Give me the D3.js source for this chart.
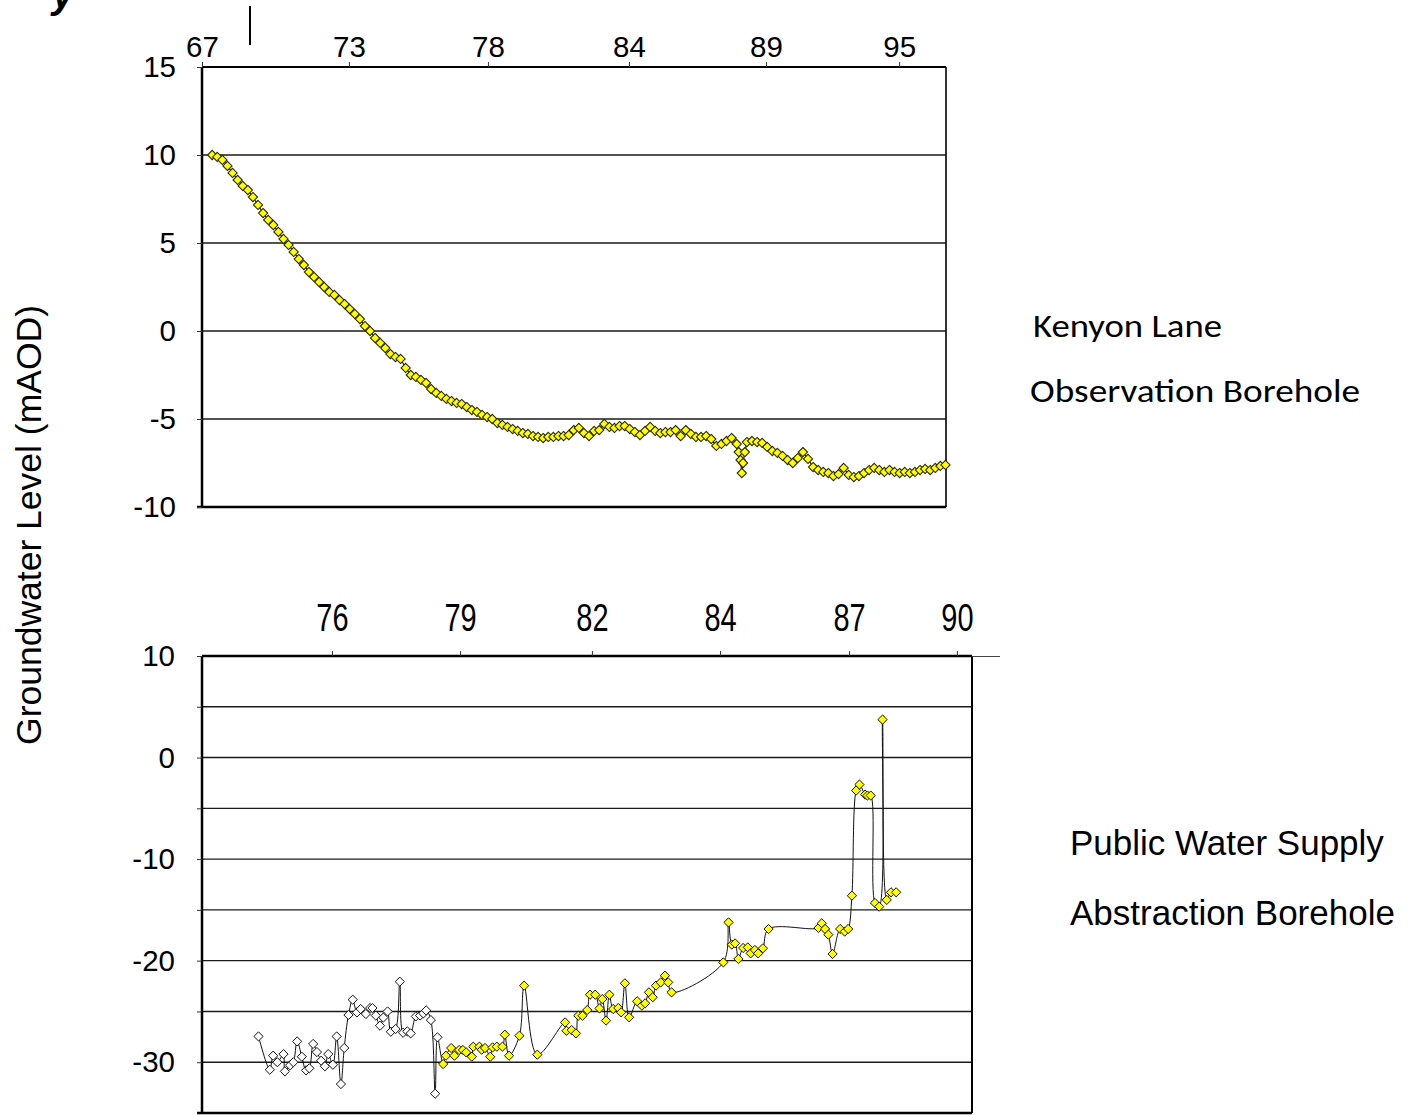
<!DOCTYPE html>
<html><head><meta charset="utf-8">
<script src="https://cdn.jsdelivr.net/npm/d3@7"></script>
<style>body{margin:0;background:#fff}svg{display:block}</style>
</head><body>
<svg id="c" width="1420" height="1115"></svg>
<script>
// ---------- DATA ----------
// Kenyon Lane observation borehole (decimal year, level mAOD)
const kenyonYears = [
1968.3,1968.5,1968.7,1968.9,1969.1,1969.3,1969.5,1969.7,1969.9,1970.1,
1970.3,1970.5,1970.7,1970.9,1971.1,1971.3,1971.5,1971.7,1971.9,1972.1,
1972.3,1972.5,1972.7,1972.9,1973.1,1973.3,1973.5,1973.7,1973.9,1974.1,
1974.3,1974.5,1974.7,1974.9,1975.1,1975.3,1975.5,1975.7,1975.9,1976.1,
1976.3,1976.5,1976.7,1976.9,1977.1,1977.3,1977.5,1977.7,1977.9,1978.1,
1978.3,1978.5,1978.7,1978.9,1979.1,1979.3,1979.5,1979.7,1979.9,1980.1,
1980.3,1980.5,1980.7,1980.9,1981.1,1981.3,1981.5,1981.7,1981.9,1982.1,
1982.3,1982.5,1982.7,1982.9,1983.1,1983.3,1983.5,1983.7,1983.9,1984.1,
1984.3,1984.5,1984.7,1984.9,1985.1,1985.3,1985.5,1985.7,1985.9,1986.1,
1986.3,1986.5,1986.7,1986.9,1987.1,1987.3,1987.5,1987.7,1987.9,1988.1,
1988.3,1988.5,1988.7,1988.9,1988.98,1989.05,1989.1,1989.15,1989.22,1989.3,
1989.5,1989.7,1989.9,1990.1,1990.3,1990.5,1990.7,1990.9,1991.1,1991.3,
1991.5,1991.7,1991.9,1992.1,1992.3,1992.5,1992.7,1992.9,1993.1,1993.3,
1993.5,1993.7,1993.9,1994.1,1994.3,1994.5,1994.7,1994.9,1995.1,1995.3,
1995.5,1995.7,1995.9,1996.1,1996.3,1996.5,1996.7,1996.9,1997.1];
const kenyonLevels = [
10.0,9.89,9.72,9.38,8.98,8.58,8.24,8.01,7.61,7.16,
6.70,6.31,6.02,5.63,5.23,4.89,4.49,4.09,3.75,3.35,
3.07,2.78,2.50,2.22,2.05,1.76,1.53,1.25,0.97,0.68,
0.28,0.0,-0.40,-0.68,-0.97,-1.31,-1.48,-1.59,-2.10,-2.50,
-2.61,-2.78,-2.95,-3.30,-3.52,-3.69,-3.86,-3.98,-4.09,-4.15,
-4.32,-4.49,-4.60,-4.77,-4.89,-5.0,-5.23,-5.34,-5.45,-5.57,
-5.68,-5.80,-5.85,-5.97,-6.02,-6.08,-6.02,-6.02,-5.97,-5.97,
-5.91,-5.63,-5.51,-5.80,-5.97,-5.68,-5.63,-5.28,-5.45,-5.51,
-5.40,-5.40,-5.57,-5.74,-5.91,-5.68,-5.45,-5.68,-5.80,-5.74,
-5.74,-5.63,-5.97,-5.63,-5.85,-6.02,-6.02,-5.97,-6.14,-6.53,
-6.42,-6.25,-6.08,-6.42,-6.88,-7.33,-8.07,-7.50,-6.88,-6.31,
-6.25,-6.31,-6.36,-6.59,-6.82,-6.93,-7.10,-7.33,-7.50,-7.22,
-6.88,-7.27,-7.73,-7.90,-8.01,-8.07,-8.24,-8.13,-7.78,-8.18,
-8.30,-8.24,-8.07,-7.90,-7.78,-7.90,-8.01,-7.90,-8.01,-8.07,
-8.01,-8.07,-8.01,-7.90,-7.84,-7.90,-7.78,-7.67,-7.61];

// Public water supply abstraction borehole: earlier (white) and later (yellow) records
const pwsEarlyYears = [1975.10,1975.34,1975.41,1975.50,1975.63,1975.66,1975.77,1975.84,1975.92,1976.02,
1976.11,1976.18,1976.26,1976.34,1976.43,1976.51,1976.58,1976.68,1976.76,1976.85,
1976.92,1977.01,1977.10,1977.19,1977.27,1977.38,1977.47,1977.52,1977.59,1977.68,
1977.75,1977.84,1977.91,1978.01,1978.10,1978.17,1978.26,1978.33,1978.44,1978.53,
1978.60,1978.66,1978.76,1978.85,1978.90];
const pwsEarlyLevels = [-27.46,-30.74,-29.36,-30.0,-29.2,-30.9,-30.3,-30.0,-27.95,-29.46,
-30.8,-30.6,-28.2,-29.0,-29.85,-30.4,-29.2,-30.25,-27.46,-32.15,
-28.6,-25.35,-23.84,-25.1,-24.76,-25.25,-24.66,-24.66,-25.4,-26.4,
-25.6,-25.0,-27.0,-26.73,-22.07,-27.1,-26.96,-27.16,-25.49,-25.4,
-25.2,-24.9,-25.85,-33.1,-27.55];
const pwsLateYears = [1979.02,1979.08,1979.19,1979.26,1979.36,1979.44,1979.51,1979.63,1979.66,1979.79,1979.84,1979.91,
1980.02,1980.07,1980.16,1980.28,1980.33,1980.42,1980.64,1980.74,
1981.02,1981.61,1981.64,1981.75,1981.84,1981.89,1981.98,
1982.08,1982.14,1982.25,1982.34,1982.40,1982.48,1982.55,1982.63,1982.74,1982.80,1982.88,1982.97,
1983.14,1983.24,1983.31,1983.39,1983.47,1983.54,1983.64,1983.73,1983.80,1983.87,
1984.97,
1985.08,1985.15,1985.22,1985.29,1985.39,1985.49,1985.55,1985.64,1985.71,1985.81,1985.93,
1986.99,
1987.06,1987.13,1987.20,1987.29,1987.45,1987.55,1987.62,1987.70,1987.79,1987.86,1987.98,
1988.03,1988.10,1988.19,1988.28,1988.35,1988.44,1988.53,1988.64];
const pwsLateLevels = [-30.18,-29.36,-28.6,-29.36,-28.8,-28.8,-29.03,-29.46,-28.47,-28.47,-28.77,-28.6,
-29.46,-28.54,-28.47,-28.47,-27.29,-29.36,-27.39,-22.46,
-29.26,-26.08,-26.9,-26.83,-27.16,-25.42,-25.42,
-24.86,-23.35,-23.35,-24.7,-23.78,-25.9,-23.35,-24.76,-24.66,-25.09,-22.23,-25.58,
-24.0,-24.43,-24.2,-23.12,-23.6,-22.46,-22.14,-21.48,-22.14,-23.12,
-20.17,
-16.23,-18.42,-18.3,-19.83,-18.75,-18.69,-19.28,-18.95,-19.28,-18.78,-16.88,
-16.78,
-16.32,-16.88,-17.44,-19.34,-16.88,-17.14,-16.88,-13.6,-3.25,-2.66,-3.65,
-3.74,-3.74,-14.32,-14.68,3.74,-14.02,-13.27,-13.27];

// Axis ticks
const topXTicks = [1967.9,1973.67,1979.13,1984.67,1990.05,1995.28];
const topXLabels = ["67","73","78","84","89","95"];
const topYTicks = [15,10,5,0,-5,-10];
const topGrid = [10,5,0,-5];
const botXTicks = [1976.66,1979.38,1982.18,1984.9,1987.64,1989.93];
const botXLabels = ["76","79","82","84","87","90"];
const botYTicks = [10,0,-10,-20,-30];
const botYMinor = [10,5,0,-5,-10,-15,-20,-25,-30];
const botGrid = [5,0,-5,-10,-15,-20,-25,-30];

// ---------- DRAW ----------
const svg = d3.select('#c');
const FONT = "'Liberation Sans', Arial, sans-serif";
const diamond = r => `M0,${-r}L${r},0L0,${r}L${-r},0Z`;
const hy = d => String(d); // plain hyphen-minus like the original

// partial title glyph & stray mark at top
svg.append('text').attr('x',52).attr('y',8).attr('font-family',FONT).attr('font-weight','bold')
  .attr('font-style','italic').attr('font-size',40).attr('fill','#000').text('y');
svg.append('line').attr('x1',250).attr('x2',250).attr('y1',6).attr('y2',45).attr('stroke','#000').attr('stroke-width',2);

// Y title
svg.append('text').attr('transform','translate(41,525) rotate(-90)').attr('text-anchor','middle')
  .attr('font-family',FONT).attr('font-size',35.5).attr('fill','#000').text('Groundwater Level (mAOD)');

// ===== Top chart =====
const xT = d3.scaleLinear().domain([1967.9,1997.12]).range([202,946]);
const yT = d3.scaleLinear().domain([-10,15]).range([507,67]);
const gT = svg.append('g');
gT.selectAll('line.grid').data(topGrid).join('line').attr('class','grid')
  .attr('x1',202).attr('x2',946).attr('y1',d=>yT(d)).attr('y2',d=>yT(d))
  .attr('stroke','#1a1a1a').attr('stroke-width',1.4);
gT.append('line').attr('x1',946).attr('x2',946).attr('y1',67).attr('y2',507).attr('stroke','#000').attr('stroke-width',1.6);
gT.append('line').attr('x1',197).attr('x2',946).attr('y1',507).attr('y2',507).attr('stroke','#000').attr('stroke-width',2.5);

const axTopX = d3.axisTop(xT).tickValues(topXTicks).tickSize(5).tickPadding(5).tickFormat((d,i)=>topXLabels[i]);
const gax1 = gT.append('g').attr('transform','translate(0,67)').call(axTopX);
gax1.select('.domain').attr('d','M202,0H946').attr('stroke','#000').attr('stroke-width',2);
gax1.selectAll('text').attr('font-family',FONT).attr('font-size',29.5).attr('fill','#000');
gax1.selectAll('line').attr('stroke','#333').attr('stroke-width',1);

const axTopY = d3.axisLeft(yT).tickValues(topYTicks).tickSize(5).tickPadding(21).tickFormat(hy);
const gay1 = gT.append('g').attr('transform','translate(202,0)').call(axTopY);
gay1.select('.domain').attr('d','M0,67V507').attr('stroke','#000').attr('stroke-width',2.5);
gay1.selectAll('text').attr('font-family',FONT).attr('font-size',29.5).attr('fill','#000');
gay1.selectAll('line').attr('stroke','#333');

const kenyon = kenyonYears.map((y,i)=>({x:y,v:kenyonLevels[i]}));
gT.append('path').datum(kenyon)
  .attr('d',d3.line().x(d=>xT(d.x)).y(d=>yT(d.v)))
  .attr('fill','none').attr('stroke','#222').attr('stroke-width',1.2);
gT.selectAll('path.mk').data(kenyon).join('path').attr('class','mk')
  .attr('transform',d=>`translate(${xT(d.x)},${yT(d.v)})`)
  .attr('d',diamond(4.6)).attr('fill','#ffff00').attr('stroke','#2a2a00').attr('stroke-width',1.1);

// ===== Bottom chart =====
const xB = d3.scaleLinear().domain([1973.9,1990.25]).range([202,972]);
const yB = d3.scaleLinear().domain([-35,10]).range([1113,656]);
const gB = svg.append('g');
gB.selectAll('line.grid').data(botGrid).join('line').attr('class','grid')
  .attr('x1',202).attr('x2',972).attr('y1',d=>yB(d)).attr('y2',d=>yB(d))
  .attr('stroke','#1a1a1a').attr('stroke-width',1.4);
gB.append('line').attr('x1',972).attr('x2',972).attr('y1',656).attr('y2',1113).attr('stroke','#000').attr('stroke-width',2);
gB.append('line').attr('x1',197).attr('x2',972).attr('y1',1113).attr('y2',1113).attr('stroke','#000').attr('stroke-width',2.5);
gB.append('line').attr('x1',972).attr('x2',1000).attr('y1',656.5).attr('y2',656.5).attr('stroke','#444').attr('stroke-width',1);

const axBotX = d3.axisTop(xB).tickValues(botXTicks).tickSize(5).tickPadding(0).tickFormat((d,i)=>botXLabels[i]);
const gax2 = gB.append('g').attr('transform','translate(0,656)').call(axBotX);
gax2.select('.domain').attr('d','M202,0H972').attr('stroke','#000').attr('stroke-width',2.5);
gax2.selectAll('text').attr('font-family',FONT).attr('font-size',29).attr('fill','#000')
  .attr('y',-25/1.32).attr('transform','scale(1,1.32)');
gax2.selectAll('line').attr('stroke','#333');

const axBotY = d3.axisLeft(yB).tickValues(botYMinor).tickSize(5).tickPadding(22)
  .tickFormat(d=>botYTicks.includes(d)?hy(d):'');
const gay2 = gB.append('g').attr('transform','translate(202,0)').call(axBotY);
gay2.select('.domain').attr('d','M0,656V1113').attr('stroke','#000').attr('stroke-width',2.5);
gay2.selectAll('text').attr('font-family',FONT).attr('font-size',29.5).attr('fill','#000');
gay2.selectAll('line').attr('stroke','#333');

const early = pwsEarlyYears.map((y,i)=>({x:y,v:pwsEarlyLevels[i]}));
const late = pwsLateYears.map((y,i)=>({x:y,v:pwsLateLevels[i]}));
gB.append('path').datum(early.concat(late))
  .attr('d',d3.line().curve(d3.curveCatmullRom.alpha(0.5)).x(d=>xB(d.x)).y(d=>yB(d.v)))
  .attr('fill','none').attr('stroke','#111').attr('stroke-width',1);
gB.selectAll('path.mw').data(early).join('path').attr('class','mw')
  .attr('transform',d=>`translate(${xB(d.x)},${yB(d.v)})`)
  .attr('d',diamond(4.6)).attr('fill','#fff').attr('stroke','#111').attr('stroke-width',1);
gB.selectAll('path.my').data(late).join('path').attr('class','my')
  .attr('transform',d=>`translate(${xB(d.x)},${yB(d.v)})`)
  .attr('d',diamond(4.6)).attr('fill','#ffff00').attr('stroke','#111').attr('stroke-width',1);

// ===== Annotations =====
const SANS2 = "Carlito, Lato, 'Open Sans', sans-serif";
svg.append('text').attr('x',1033).attr('y',337).attr('font-family',SANS2).attr('font-size',32)
  .attr('textLength',189).attr('lengthAdjust','spacingAndGlyphs').text('Kenyon Lane');
svg.append('text').attr('x',1030).attr('y',402).attr('font-family',SANS2).attr('font-size',32)
  .attr('textLength',330).attr('lengthAdjust','spacingAndGlyphs').text('Observation Borehole');
svg.append('text').attr('x',1070).attr('y',855).attr('font-family',FONT).attr('font-size',35).text('Public Water Supply');
svg.append('text').attr('x',1070).attr('y',925).attr('font-family',FONT).attr('font-size',35).text('Abstraction Borehole');
</script>
</body></html>
